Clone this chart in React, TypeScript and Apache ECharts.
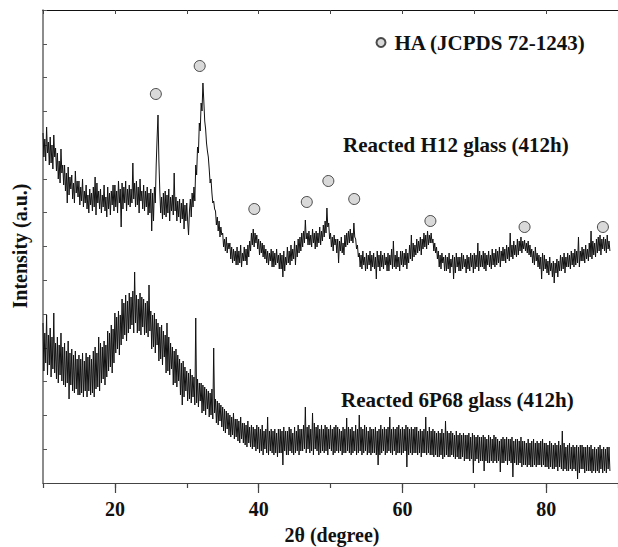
import React, { useEffect, useRef } from "react";
import * as echarts from "echarts";

// 2θ sampling of the scans
const X_START = 10;
const X_STEP = 0.125;

// Reacted H12 glass (412h) — intensity (a.u.), one value per 0.125°, 8 values per degree
const h12 = [
  350, 326, 344, 322, 356, 330, 341, 318,
  346, 320, 338, 314, 348, 326, 335, 312,
  330, 304, 322, 300, 334, 310, 318, 298,
  318, 292, 310, 280, 316, 288, 306, 294,
  308, 284, 300, 280, 312, 290, 302, 286,
  302, 278, 296, 282, 304, 276, 292, 280,
  298, 274, 288, 270, 294, 278, 290, 272,
  296, 276, 306, 268, 300, 280, 292, 274,
  294, 270, 288, 276, 298, 272, 286, 266,
  296, 274, 290, 268, 292, 278, 298, 272,
  298, 276, 292, 270, 302, 280, 294, 256,
  300, 274, 296, 280, 302, 272, 294, 278,
  298, 276, 294, 280, 320, 284, 300, 276,
  302, 278, 296, 270, 304, 282, 292, 274,
  298, 272, 292, 276, 296, 268, 290, 270,
  294, 252, 290, 262, 296, 280, 318, 345,
  368, 322, 292, 270, 286, 264, 290, 268,
  292, 266, 288, 270, 294, 262, 286, 272,
  288, 268, 310, 272, 286, 262, 282, 266,
  284, 260, 280, 264, 284, 254, 278, 262,
  280, 262, 248, 272, 284, 266, 290, 276,
  296, 282, 318, 308, 336, 330, 360, 352,
  380, 372, 400, 382, 362, 354, 340, 332,
  326, 314, 300, 304, 290, 280, 282, 274,
  272, 258, 266, 252, 262, 246, 256, 248,
  250, 236, 244, 232, 246, 230, 240, 234,
  240, 224, 236, 220, 234, 222, 232, 218,
  236, 218, 232, 220, 238, 216, 230, 222,
  236, 222, 234, 218, 238, 226, 242, 232,
  250, 238, 254, 236, 250, 240, 248, 234,
  244, 228, 242, 230, 240, 226, 238, 224,
  234, 220, 232, 218, 230, 222, 234, 216,
  232, 216, 230, 218, 234, 220, 228, 214,
  230, 214, 228, 206, 232, 212, 226, 218,
  236, 220, 232, 218, 238, 222, 234, 224,
  242, 218, 238, 226, 244, 230, 246, 232,
  250, 236, 252, 240, 263, 244, 250, 238,
  252, 238, 248, 236, 254, 240, 250, 234,
  252, 236, 250, 240, 256, 238, 252, 242,
  258, 246, 262, 250, 275, 256, 260, 244,
  250, 236, 246, 232, 248, 238, 244, 230,
  244, 220, 242, 232, 246, 230, 240, 228,
  248, 236, 250, 238, 252, 240, 254, 242,
  250, 240, 260, 246, 244, 234, 238, 226,
  230, 216, 228, 214, 232, 218, 226, 212,
  230, 214, 228, 218, 232, 212, 228, 216,
  230, 214, 226, 204, 232, 216, 228, 212,
  232, 216, 228, 214, 230, 218, 226, 212,
  230, 212, 228, 218, 234, 214, 242, 216,
  228, 214, 232, 216, 226, 212, 232, 218,
  232, 216, 230, 218, 234, 214, 230, 220,
  238, 224, 248, 222, 240, 226, 238, 228,
  244, 230, 242, 232, 246, 228, 244, 234,
  250, 236, 248, 234, 252, 238, 248, 240,
  250, 240, 244, 232, 240, 230, 236, 224,
  232, 216, 228, 214, 230, 220, 226, 212,
  228, 212, 226, 214, 230, 210, 224, 216,
  228, 204, 226, 210, 230, 216, 226, 212,
  226, 212, 230, 214, 228, 216, 224, 210,
  228, 214, 226, 212, 230, 216, 228, 210,
  230, 214, 228, 216, 240, 212, 232, 216,
  228, 216, 232, 214, 230, 212, 228, 218,
  232, 216, 228, 214, 234, 218, 230, 216,
  234, 218, 232, 220, 236, 216, 232, 222,
  236, 222, 234, 220, 238, 224, 236, 222,
  250, 226, 238, 224, 242, 228, 238, 226,
  244, 228, 242, 232, 246, 230, 242, 234,
  243, 232, 240, 230, 242, 228, 238, 226,
  234, 220, 232, 218, 236, 222, 230, 216,
  228, 214, 226, 204, 230, 212, 228, 214,
  224, 210, 222, 208, 226, 212, 220, 206,
  222, 200, 220, 210, 224, 206, 222, 212,
  228, 212, 226, 214, 230, 210, 226, 216,
  230, 216, 228, 214, 232, 218, 230, 216,
  234, 218, 232, 220, 246, 216, 232, 222,
  236, 222, 234, 220, 238, 224, 234, 222,
  240, 226, 252, 224, 242, 228, 240, 226,
  244, 230, 246, 232, 248, 228, 244, 234,
  246, 232, 244, 230, 248, 234, 242, 232,
];

// Reacted 6P68 glass (412h) — intensity (a.u.), one value per 0.125°, 8 values per degree
const p68 = [
  160, 112, 150, 120, 168, 108, 148, 118,
  155, 106, 146, 114, 170, 110, 140, 104,
  146, 100, 138, 108, 150, 102, 136, 98,
  140, 96, 132, 100, 142, 84, 130, 98,
  134, 92, 128, 90, 132, 94, 124, 88,
  128, 88, 124, 90, 130, 86, 122, 92,
  130, 86, 126, 92, 128, 88, 124, 90,
  132, 86, 136, 94, 130, 96, 146, 92,
  140, 100, 136, 104, 142, 98, 138, 106,
  152, 112, 150, 116, 158, 110, 154, 120,
  170, 130, 166, 134, 172, 128, 168, 138,
  184, 144, 180, 148, 188, 142, 182, 150,
  190, 154, 186, 158, 192, 150, 211, 160,
  188, 150, 184, 152, 190, 148, 186, 156,
  184, 148, 180, 150, 182, 146, 198, 152,
  172, 134, 168, 136, 170, 130, 164, 138,
  160, 122, 156, 124, 158, 118, 152, 126,
  148, 110, 160, 112, 146, 108, 140, 114,
  136, 98, 132, 100, 134, 96, 128, 102,
  124, 88, 120, 78, 122, 86, 116, 92,
  112, 82, 110, 84, 114, 80, 108, 86,
  106, 78, 165, 80, 104, 76, 100, 82,
  100, 70, 98, 72, 96, 68, 94, 74,
  92, 66, 90, 68, 94, 64, 135, 70,
  84, 60, 82, 58, 80, 62, 78, 56,
  76, 52, 74, 50, 72, 54, 70, 48,
  68, 46, 66, 48, 70, 44, 64, 46,
  64, 42, 62, 40, 66, 44, 60, 40,
  60, 38, 58, 36, 62, 40, 56, 36,
  58, 34, 56, 36, 54, 32, 58, 34,
  56, 30, 54, 32, 58, 28, 52, 34,
  54, 30, 66, 28, 52, 32, 54, 30,
  52, 28, 54, 30, 50, 26, 54, 30,
  54, 30, 52, 18, 56, 32, 52, 28,
  52, 28, 56, 32, 54, 30, 50, 28,
  56, 30, 52, 32, 58, 28, 54, 32,
  54, 32, 58, 34, 76, 30, 56, 34,
  58, 30, 54, 32, 70, 28, 60, 34,
  56, 32, 58, 28, 54, 30, 58, 32,
  54, 30, 58, 32, 56, 28, 54, 34,
  58, 32, 54, 28, 56, 30, 58, 32,
  56, 30, 54, 32, 52, 28, 56, 30,
  54, 30, 65, 32, 56, 30, 54, 28,
  56, 30, 52, 32, 58, 28, 54, 30,
  68, 32, 56, 28, 54, 30, 58, 32,
  56, 28, 52, 30, 56, 28, 54, 30,
  54, 30, 56, 28, 52, 18, 54, 28,
  58, 30, 54, 32, 56, 28, 54, 30,
  56, 32, 66, 30, 54, 28, 56, 32,
  54, 28, 56, 30, 58, 30, 54, 28,
  56, 30, 54, 32, 58, 16, 56, 28,
  54, 30, 56, 28, 54, 30, 56, 30,
  56, 28, 52, 30, 54, 26, 52, 30,
  54, 30, 66, 28, 52, 30, 56, 28,
  52, 28, 54, 26, 52, 28, 50, 26,
  52, 26, 50, 28, 54, 24, 50, 26,
  62, 28, 52, 26, 50, 26, 52, 28,
  50, 26, 48, 24, 52, 26, 48, 24,
  50, 24, 48, 26, 50, 22, 48, 24,
  48, 24, 50, 22, 46, 24, 50, 10,
  48, 22, 46, 24, 48, 20, 46, 22,
  46, 22, 48, 12, 46, 22, 44, 20,
  48, 20, 46, 22, 44, 20, 48, 22,
  46, 20, 44, 22, 42, 11, 44, 20,
  46, 20, 44, 22, 46, 18, 44, 22,
  44, 20, 46, 6, 42, 20, 44, 18,
  44, 18, 42, 20, 46, 16, 42, 18,
  42, 18, 40, 16, 44, 18, 40, 16,
  42, 16, 44, 18, 40, 16, 42, 18,
  40, 18, 42, 16, 44, 18, 40, 16,
  40, 16, 38, 14, 42, 16, 40, 14,
  38, 14, 40, 16, 38, 12, 42, 16,
  38, 14, 52, 12, 40, 14, 36, 12,
  38, 12, 40, 14, 36, 12, 38, 14,
  36, 12, 38, 4, 36, 10, 38, 14,
  38, 14, 36, 10, 36, 12, 38, 12,
  36, 12, 38, 10, 34, 12, 36, 10,
  34, 12, 36, 10, 38, 14, 34, 10,
  36, 12, 34, 10, 36, 14, 36, 12,
];

// HA (JCPDS 72-1243) reflection markers
const haX = [25.7, 31.8, 39.4, 46.7, 49.7, 53.3, 63.9, 77.0, 87.9];
const haY = [389, 417, 274, 281, 302, 284, 262, 256, 256];

// axis settings
const X_MIN = 10;
const X_MAX = 90;
const X_LABELS = [20, 40, 60, 80];
const Y_MAX = 473;
const Y_DIVS = 14;

const FONT = "'Liberation Serif', 'Times New Roman', serif";

export default function App() {
  const ref = useRef<HTMLDivElement>(null);

  useEffect(() => {
    if (!ref.current) return;
    const chart = echarts.init(ref.current, null, { renderer: "svg" });
    const toPairs = (arr: number[]) => arr.map((v, i) => [X_START + i * X_STEP, v]);

    chart.setOption({
      animation: false,
      backgroundColor: "#ffffff",
      grid: { left: 43, top: 10, width: 584, height: 473, containLabel: false },
      legend: {
        data: [{ name: "HA (JCPDS 72-1243)", icon: "circle" }],
        left: 375.5,
        top: 32,
        padding: 0,
        itemWidth: 9,
        itemHeight: 9,
        textStyle: {
          fontFamily: FONT,
          fontWeight: "bold",
          fontSize: 21,
          color: "#111",
          padding: [0, 0, 0, 4],
        },
      },
      xAxis: [
        {
          type: "value",
          position: "bottom",
          min: X_MIN,
          max: X_MAX,
          interval: 10,
          axisLine: { show: true, lineStyle: { color: "#444", width: 1.2 } },
          axisTick: { show: true, inside: false, length: 5, lineStyle: { color: "#444", width: 1.2 } },
          axisLabel: {
            customValues: X_LABELS,
            margin: 16,
            fontFamily: FONT,
            fontWeight: "bold",
            fontSize: 20,
            color: "#111",
          },
          splitLine: { show: false },
        },
        {
          type: "value",
          position: "bottom",
          min: X_MIN,
          max: X_MAX,
          interval: 10,
          axisLine: { show: false },
          axisTick: {
            show: true,
            inside: false,
            length: 10,
            customValues: X_LABELS,
            lineStyle: { color: "#444", width: 1.2 },
          },
          axisLabel: { show: false },
          splitLine: { show: false },
        },
        {
          type: "value",
          position: "top",
          min: X_MIN,
          max: X_MAX,
          interval: 10,
          axisLine: { show: true, lineStyle: { color: "#111", width: 1.2 } },
          axisTick: { show: true, inside: true, length: 4, lineStyle: { color: "#444" } },
          axisLabel: { show: false },
          splitLine: { show: false },
        },
      ],
      yAxis: {
        type: "value",
        min: 0,
        max: Y_MAX,
        interval: Y_MAX / Y_DIVS,
        axisLine: { show: true, lineStyle: { color: "#666", width: 1.5 } },
        axisTick: { show: true, inside: true, length: 4, lineStyle: { color: "#555" } },
        axisLabel: { show: false },
        splitLine: { show: false },
      },
      series: [
        {
          name: "Reacted H12 glass (412h)",
          type: "line",
          xAxisIndex: 0,
          data: toPairs(h12),
          showSymbol: false,
          symbol: "none",
          lineStyle: { color: "#111", width: 1 },
          z: 2,
        },
        {
          name: "Reacted 6P68 glass (412h)",
          type: "line",
          xAxisIndex: 0,
          data: toPairs(p68),
          showSymbol: false,
          symbol: "none",
          lineStyle: { color: "#111", width: 1 },
          z: 2,
        },
        {
          name: "HA (JCPDS 72-1243)",
          type: "scatter",
          xAxisIndex: 0,
          data: haX.map((x, i) => [x, haY[i]]),
          symbol: "circle",
          symbolSize: 11,
          itemStyle: { color: "#d0d0d0", borderColor: "#222", borderWidth: 1 },
          z: 5,
        },
      ],
      graphic: [
        {
          type: "text",
          x: 343,
          y: 145,
          style: {
            text: "Reacted H12 glass (412h)",
            fontFamily: FONT,
            fontWeight: "bold",
            fontSize: 21,
            fill: "#111",
            verticalAlign: "middle",
          },
        },
        {
          type: "text",
          x: 341,
          y: 400,
          style: {
            text: "Reacted 6P68 glass (412h)",
            fontFamily: FONT,
            fontWeight: "bold",
            fontSize: 21,
            fill: "#111",
            verticalAlign: "middle",
          },
        },
        {
          type: "text",
          x: 332,
          y: 535,
          style: {
            text: "2θ (degree)",
            fontFamily: FONT,
            fontWeight: "bold",
            fontSize: 20,
            fill: "#111",
            align: "center",
            verticalAlign: "middle",
          },
        },
        {
          type: "text",
          x: 20,
          y: 246,
          rotation: Math.PI / 2,
          style: {
            text: "Intensity (a.u.)",
            fontFamily: FONT,
            fontWeight: "bold",
            fontSize: 20,
            fill: "#111",
            align: "center",
            verticalAlign: "middle",
          },
        },
      ],
    });

    return () => chart.dispose();
  }, []);

  return (
    <div
      ref={ref}
      style={{ position: "absolute", left: 0, top: 0, width: 618, height: 547, background: "#fff" }}
    />
  );
}
